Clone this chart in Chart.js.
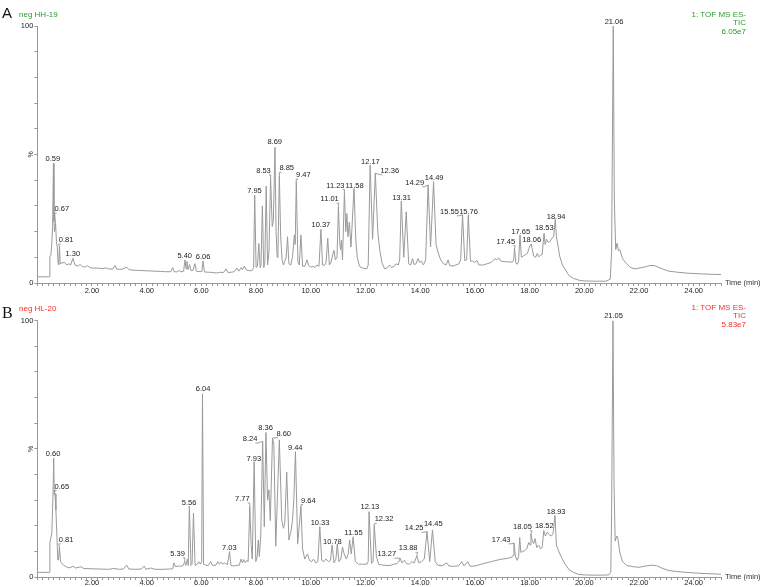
<!DOCTYPE html>
<html><head><meta charset="utf-8">
<script src="https://cdn.jsdelivr.net/npm/chart.js@4.4.1/dist/chart.umd.min.js"></script>
<style>
html,body{margin:0;padding:0;background:#fff;}
#wrap{position:relative;width:761px;height:587px;overflow:hidden;background:#fff;}
canvas{position:absolute;left:0;}
#cA{top:0;}
#cB{top:294px;}
</style></head><body>
<div id="wrap"><canvas id="cA" width="761" height="300"></canvas><canvas id="cB" width="761" height="293"></canvas></div>
<script>
// ---------- DATA ----------
const xTickValues = [2, 4, 6, 8, 10, 12, 14, 16, 18, 20, 22, 24];
const yTickValues = [0, 100];

// Panel A: neg HH-19 (retention time in min, relative intensity %)
const timeA = [0.00,0.45,0.46,0.50,0.53,0.56,0.59,0.61,0.63,0.67,0.70,0.73,0.76,0.78,0.81,0.84,0.90,1.00,1.08,1.15,1.22,1.30,1.38,1.50,1.56,1.65,1.75,1.83,1.92,2.05,2.20,2.40,2.50,2.60,2.75,2.84,2.90,3.10,3.27,3.35,3.50,3.70,3.90,4.10,4.30,4.50,4.70,4.88,4.95,5.00,5.10,5.20,5.25,5.35,5.40,5.44,5.47,5.51,5.57,5.62,5.70,5.76,5.82,5.95,6.02,6.06,6.11,6.25,6.40,6.55,6.70,6.80,6.90,6.97,7.10,7.20,7.30,7.37,7.46,7.50,7.57,7.65,7.75,7.85,7.91,7.95,8.00,8.05,8.10,8.15,8.18,8.23,8.28,8.32,8.37,8.42,8.47,8.53,8.59,8.63,8.69,8.73,8.77,8.80,8.85,8.90,8.95,9.00,9.05,9.10,9.15,9.20,9.27,9.33,9.40,9.43,9.47,9.53,9.58,9.64,9.70,9.78,9.86,9.92,10.00,10.08,10.15,10.22,10.30,10.37,10.43,10.50,10.56,10.62,10.68,10.74,10.80,10.85,10.90,10.96,11.01,11.06,11.09,11.12,11.16,11.23,11.28,11.32,11.36,11.41,11.47,11.58,11.65,11.70,11.78,11.90,12.05,12.10,12.17,12.26,12.36,12.45,12.52,12.60,12.70,12.80,12.88,12.95,13.05,13.12,13.20,13.25,13.31,13.40,13.49,13.58,13.65,13.72,13.78,13.85,13.92,13.98,14.05,14.12,14.20,14.29,14.38,14.49,14.58,14.65,14.75,14.85,14.95,15.02,15.08,15.20,15.30,15.42,15.48,15.55,15.63,15.70,15.76,15.84,15.92,16.00,16.07,16.15,16.30,16.45,16.60,16.73,16.80,16.87,16.95,17.10,17.25,17.38,17.42,17.45,17.50,17.55,17.60,17.65,17.70,17.77,17.85,17.92,17.98,18.02,18.06,18.10,18.15,18.22,18.28,18.34,18.40,18.46,18.53,18.57,18.62,18.68,18.75,18.82,18.88,18.94,18.98,19.05,19.10,19.20,19.30,19.45,19.60,19.80,20.00,20.40,20.80,20.95,21.00,21.06,21.10,21.15,21.20,21.25,21.30,21.40,21.55,21.70,21.85,22.00,22.20,22.40,22.55,22.70,22.90,23.10,23.40,23.80,24.20,24.60,25.00];
const intensityA = [2.4,2.4,10.2,11,15.5,22,46.5,24,20,23,16,14,8,7,14,7.5,7.8,8,7,7.5,7,9.6,7,6.6,7.2,6.4,6.2,6.8,6,5.8,5.8,5.6,5.9,5.5,5.4,6.8,5.4,5.3,6.2,5.2,5.0,4.9,4.8,4.7,4.6,4.5,4.4,4.4,6,4.4,4.3,4.9,4.3,4.6,9,5.5,8.4,5.2,7.2,4.8,5,7.5,4.6,4.4,4.5,8.6,4.3,4.2,4.1,3.9,4.2,4.0,5.5,4.1,4.2,4.4,5.8,4.6,6,5.2,6.6,5,4.8,4.8,6,34.2,6,6.5,15.4,6,7,30,6,8,37.7,7,12,40.7,22,24,52.8,20,10,12,41.6,18,9,7,8.5,10,18,7.5,7,10,18.7,15,39.4,8,7,18.7,6.5,6.5,9,6.8,6.2,6.5,6,7,6.5,20.9,7,6.8,8,17.4,7,8,11,12.7,9,10,29.7,15.4,13,16.6,9,35.5,20,27,18,23.7,14,36.8,16,10,6.5,5.8,5.5,7,45.9,17,42.7,20,13,8,5.5,6,7,6,6.5,7.5,7,9,31.9,10,27.7,7.5,7,9.5,7.2,7.5,9.5,8,8.5,7,9,38.1,14,39.4,15,12,9,7.5,7,9,6.8,6.6,7,7.5,9,26.5,8.7,9,26.5,8.5,8.5,8,8.8,7,7,7.5,8,9.5,9,9.8,8.5,8.3,8.2,8.2,9,13.5,7.7,7.3,8.5,18.7,10,10.5,11,11.5,13.5,14.5,15.2,13,10.5,10,11.5,10.2,10.8,11,19.3,15,17,15.8,16.2,17.5,18,24.8,18,14,10.5,7,5.3,2.8,1.8,1.1,0.8,0.7,0.7,1.5,12,100,32,13,15.5,12.5,13,9.5,7.5,6,5.5,5.8,6.2,6.8,6.8,6.2,5.3,4.6,4.2,3.8,3.6,3.4,3.3];

// Panel B: neg HL-20
const timeB = [0.00,0.45,0.46,0.53,0.57,0.60,0.62,0.65,0.68,0.71,0.75,0.78,0.81,0.85,0.95,1.10,1.20,1.30,1.40,1.60,1.70,2.00,2.30,2.60,2.80,3.00,3.15,3.27,3.35,3.60,3.80,3.91,3.97,4.15,4.30,4.60,4.80,4.95,5.00,5.05,5.15,5.25,5.33,5.39,5.43,5.49,5.52,5.56,5.62,5.66,5.71,5.77,5.85,5.90,5.96,6.01,6.04,6.08,6.15,6.25,6.34,6.40,6.52,6.60,6.65,6.72,6.78,6.85,6.95,7.03,7.08,7.20,7.30,7.38,7.45,7.50,7.55,7.60,7.66,7.71,7.77,7.82,7.86,7.93,7.99,8.04,8.08,8.12,8.17,8.24,8.30,8.36,8.42,8.47,8.52,8.60,8.65,8.72,8.77,8.85,8.94,9.00,9.05,9.12,9.20,9.28,9.33,9.38,9.44,9.52,9.58,9.64,9.70,9.78,9.88,9.95,10.03,10.10,10.18,10.26,10.33,10.40,10.48,10.55,10.65,10.72,10.78,10.85,10.92,10.97,11.03,11.10,11.16,11.22,11.30,11.37,11.42,11.48,11.55,11.63,11.75,11.90,12.05,12.10,12.13,12.22,12.28,12.32,12.40,12.48,12.60,12.75,12.90,13.05,13.15,13.22,13.27,13.33,13.42,13.50,13.60,13.70,13.78,13.88,13.95,14.05,14.15,14.25,14.35,14.45,14.55,14.65,14.80,14.97,15.05,15.20,15.40,15.52,15.60,15.74,15.82,16.00,16.30,16.60,16.90,17.20,17.35,17.40,17.43,17.48,17.55,17.60,17.64,17.68,17.75,17.82,17.90,17.97,18.02,18.05,18.10,18.15,18.20,18.26,18.33,18.40,18.46,18.52,18.58,18.65,18.72,18.80,18.86,18.93,18.98,19.05,19.15,19.30,19.45,19.60,19.80,20.00,20.50,20.90,20.97,21.00,21.05,21.09,21.13,21.19,21.23,21.30,21.40,21.55,21.80,22.00,22.20,22.45,22.65,22.85,23.10,23.50,24.00,24.50,25.00];
const intensityB = [1.8,1.8,13.4,17,30,46.4,32,32.3,26,18,6.6,7,11.8,6,4.7,3.7,3.6,4.2,3.5,4,3.3,3.2,3.1,3.0,3.3,3.0,3.1,4.6,3.1,3.0,3.1,4.2,3.0,3.5,3.0,3.0,3.1,3.2,5.5,4,4.3,4.2,4.5,6.0,4.5,7,4.5,27.7,4.5,5,24.9,4.5,5,6,5,6,71.5,5,4.6,4.5,6,4.6,4.5,6,5,5.8,5,5.5,4.8,9.9,4.5,4.3,4.6,4.5,7,5.5,6.8,5.6,6.5,6,27.5,12.5,7,45,6,8,14.5,8,16,52.9,19.6,56.4,30,34,22,54.2,51.6,12,28,53.5,22,19,21,41,14.4,18,22,30,48.9,13,20,27.5,11,7,9,6.5,6,7,5.5,6,19.6,6.5,6,7,6,6.5,12.5,5.5,7,12.9,6,7,11.7,9,7,9,14.5,9,15.7,6,5,5,5,6,25.5,5.3,6,20.3,8,5,4.7,4.5,4.5,5,5.2,6,7.3,5.5,6.5,5.2,5,6,5.5,8.2,5.5,6,7,17.7,6,18.4,6,4.6,4.4,5.5,4.3,4.2,4.3,6,4.3,6,4.2,4.3,5.2,6,6.8,7.3,7.7,8.5,13.2,8.2,6.5,8,15.4,9.6,10,10.3,11,13.5,12.5,16.8,14,13,15,11.5,12.5,11,11.5,18.1,16,17.5,16.5,16,17,24,12.5,10.5,8,5,2.8,1.8,1.0,0.8,0.7,0.8,2,25,100,35,14,16,15,9.6,6,4.5,4,3.8,4.2,4.6,4.4,3.4,2.5,2.0,1.6,1.3,1.1];

// Peak labels (text = retention time); label anchor in data units
const peakTextA  = ['0.59','0.67','0.81','1.30','5.40','6.06','7.95','8.53','8.69','8.85','9.47','10.37','11.01','11.23','11.58','12.17','12.36','13.31','14.29','14.49','15.55','15.76','17.45','17.65','18.06','18.53','18.94','21.06'];
const labelTimeA = [0.57,0.90,1.05,1.30,5.39,6.06,7.94,8.27,8.68,9.12,9.73,10.37,10.69,10.90,11.60,12.18,12.89,13.32,13.80,14.51,15.07,15.77,17.13,17.68,18.08,18.54,18.97,21.09];
const labelValueA= [48.1,28.7,16.7,11.2,10.5,10.2,35.8,43.6,54.7,44.6,42.0,22.6,32.6,37.9,37.9,47.2,43.7,33.2,39.0,40.7,27.7,27.7,16.1,20.0,16.7,21.3,25.8,101.6];

const peakTextB  = ['0.60','0.65','0.81','5.39','5.56','6.04','7.03','7.77','7.93','8.24','8.36','8.60','9.44','9.64','10.33','10.78','11.55','12.13','12.32','13.27','13.88','14.25','14.45','17.43','18.05','18.52','18.93','21.05'];
const labelTimeB = [0.58,0.90,1.05,5.13,5.55,6.06,7.02,7.50,7.92,7.78,8.35,9.01,9.43,9.91,10.34,10.79,11.56,12.16,12.68,12.78,13.56,13.78,14.48,16.96,17.74,18.54,18.97,21.07];
const labelValueB= [47.9,35.3,14.5,9.0,28.8,73.4,11.4,30.4,46.1,53.8,58.3,55.9,50.3,29.8,21.2,13.7,17.3,27.2,22.5,8.9,11.2,19.0,20.6,14.5,19.6,19.9,25.5,101.9];

// ---------- RENDER ----------
const FONT = '"Liberation Sans", Arial, sans-serif';

const peakLabels = {
  id: 'peakLabels',
  afterDatasetsDraw(chart, args, o) {
    const {ctx, scales: {x, y}} = chart;
    ctx.save();
    ctx.font = '7.5px ' + FONT;
    ctx.fillStyle = '#222';
    ctx.strokeStyle = '#777';
    ctx.lineWidth = 0.7;
    ctx.textAlign = 'center';
    ctx.textBaseline = 'middle';
    o.text.forEach((t, i) => {
      const lx = x.getPixelForValue(o.lt[i]);
      const ly = y.getPixelForValue(o.lv[i]);
      const pt = parseFloat(t);
      let best = 0;
      o.times.forEach((tt, j) => { if (Math.abs(tt - pt) < Math.abs(o.times[best] - pt)) best = j; });
      const px = x.getPixelForValue(pt);
      const py = y.getPixelForValue(o.vals[best]);
      const w = ctx.measureText(t).width;
      if (Math.abs(lx - px) > 6) {
        const ex = lx > px ? lx - w / 2 : lx + w / 2;
        ctx.beginPath();
        ctx.moveTo(px, py);
        ctx.lineTo(ex, ly + 4);
        ctx.lineTo(lx > px ? ex + 2 : ex - 2, ly + 4);
        ctx.stroke();
      }
      ctx.fillText(t, lx, ly);
    });
    ctx.restore();
  }
};

const decorations = {
  id: 'decorations',
  afterDraw(chart, args, o) {
    const {ctx, scales: {x, y}, chartArea} = chart;
    ctx.save();
    ctx.textBaseline = 'middle';
    ctx.fillStyle = '#111';
    ctx.font = o.letterFont;
    ctx.textAlign = 'left';
    ctx.fillText(o.letter, 2, o.letterY);
    ctx.fillStyle = o.color;
    ctx.font = '8px ' + FONT;
    ctx.fillText(o.name, 19, o.nameY);
    ctx.textAlign = 'right';
    o.header.forEach((h, i) => ctx.fillText(h, 746, o.headerY + i * 8.5));
    ctx.fillStyle = '#333';
    ctx.font = '7px ' + FONT;
    ctx.save();
    ctx.translate(31.5, y.getPixelForValue(50));
    ctx.rotate(-Math.PI / 2);
    ctx.textAlign = 'center';
    ctx.fillText('%', 0, 0);
    ctx.restore();
    ctx.textAlign = 'left';
    ctx.font = '7.5px ' + FONT;
    ctx.fillText('Time (min)', chartArea.right + 4, chartArea.bottom);
    ctx.restore();
  }
};

function makeChart(id, times, vals, texts, lt, lv, deco, padTop, xHeight, xPad) {
  return new Chart(document.getElementById(id), {
    type: 'line',
    data: {
      datasets: [{
        data: times.map((t, i) => ({x: t, y: vals[i]})),
        borderColor: '#9a9a9a',
        borderWidth: 1,
        pointRadius: 0,
        tension: 0,
        fill: false
      }]
    },
    options: {
      responsive: false,
      animation: false,
      devicePixelRatio: 1,
      parsing: false,
      layout: {padding: {top: padTop, right: 40, left: 0, bottom: 0}},
      plugins: {
        legend: {display: false},
        tooltip: {enabled: false},
        peakLabels: {text: texts, lt: lt, lv: lv, times: times, vals: vals},
        decorations: deco
      },
      scales: {
        x: {
          type: 'linear', min: 0, max: 25,
          afterFit: s => { s.height = xHeight; },
          border: {display: true, color: '#999', width: 1},
          grid: {drawOnChartArea: false, drawTicks: true, tickLength: 3, color: '#999'},
          ticks: {
            stepSize: 0.2, autoSkip: false, maxRotation: 0, padding: xPad,
            color: '#222', font: {size: 7.5, family: FONT},
            callback: v => { const m = xTickValues.find(t => Math.abs(t - v) < 1e-6); return m !== undefined ? m.toFixed(2) : ''; }
          }
        },
        y: {
          type: 'linear', min: 0, max: 100,
          afterFit: s => { s.width = 37.3; },
          border: {display: true, color: '#999', width: 1},
          grid: {drawOnChartArea: false, drawTicks: true, tickLength: 3, color: '#999'},
          ticks: {
            stepSize: 10, padding: 1,
            color: '#222', font: {size: 7.5, family: FONT},
            callback: v => yTickValues.includes(v) ? String(v) : ''
          }
        }
      }
    },
    plugins: [peakLabels, decorations]
  });
}

makeChart('cA', timeA, intensityA, peakTextA, labelTimeA, labelValueA,
  {letter: 'A', letterFont: '15px "Liberation Sans", Arial, sans-serif', letterY: 13.5, name: 'neg HH-19', nameY: 14.5,
   color: '#2e9a2e', header: ['1: TOF MS ES-', 'TIC', '6.05e7'], headerY: 14.3}, 26, 17, 0);
makeChart('cB', timeB, intensityB, peakTextB, labelTimeB, labelValueB,
  {letter: 'B', letterFont: '16px "Liberation Serif", "Times New Roman", serif', letterY: 20, name: 'neg HL-20', nameY: 14.3,
   color: '#ff2a2a', header: ['1: TOF MS ES-', 'TIC', '5.83e7'], headerY: 13.3}, 26.7, 10, -2);
</script>
</body></html>
